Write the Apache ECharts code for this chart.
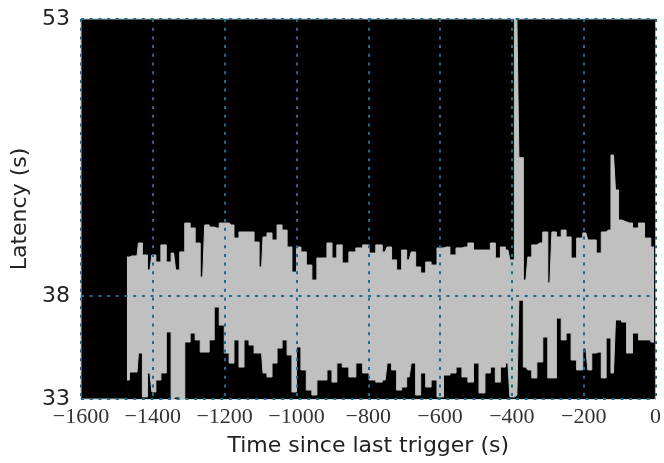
<!DOCTYPE html>
<html>
<head>
<meta charset="utf-8">
<script src="https://cdn.jsdelivr.net/npm/echarts@6/dist/echarts.min.js"></script>
<style>
html,body{margin:0;padding:0;background:#fff;}
#chart{width:664px;height:463px;}
</style>
</head>
<body>
<div id="chart"></div>
<script>
// Time since last trigger (s) for each sampled column
const times = [-1472,-1458,-1444,-1436,-1422,-1408,-1397,-1386,-1369,-1356,-1342,-1331,-1319,-1303,-1289,-1275,-1261,-1250,-1236,-1222,-1208,-1194,-1181,-1167,-1153,-1139,-1125,-1111,-1097,-1089,-1075,-1061,-1047,-1033,-1019,-1006,-994,-981,-964,-950,-936,-922,-908,-894,-881,-864,-844,-825,-806,-789,-769,-753,-742,-728,-714,-700,-686,-675,-661,-647,-633,-617,-600,-581,-564,-547,-531,-514,-500,-483,-467,-453,-439,-425,-411,-400,-386,-375,-361,-350,-339,-322,-306,-294,-283,-269,-256,-242,-228,-211,-194,-183,-172,-158,-144,-131,-117,-106,-100,-89,-72,-56,-39,-22,-4];
// Upper envelope of the latency trace (s)
const upper = [40.47,40.53,40.53,41.21,40.58,39.79,40.58,40.21,41.11,40.21,40.68,39.79,40.74,42.26,42.00,41.21,39.42,42.16,42.05,42.00,42.26,42.26,42.16,41.47,41.79,41.79,41.79,41.26,39.95,41.53,41.74,41.37,42.16,41.89,41.00,39.68,41.00,40.74,40.05,39.26,40.42,40.42,41.21,40.42,41.11,40.16,40.74,40.95,41.11,40.68,41.11,40.74,41.00,40.32,39.79,40.84,40.32,40.74,39.95,39.63,40.21,40.05,40.95,41.00,40.58,40.95,41.00,41.21,40.84,40.84,40.84,41.21,40.42,41.00,40.84,40.32,53.00,45.70,39.26,40.47,41.11,41.21,41.79,39.11,41.79,41.53,41.89,41.53,40.42,41.47,41.74,41.37,41.37,40.68,41.79,41.89,45.84,44.00,42.42,42.32,42.26,42.00,42.26,41.47,41.00];
// Lower envelope of the latency trace (s)
const lower = [34.00,34.42,34.42,35.42,33.11,34.37,33.37,34.00,34.37,36.53,33.00,33.11,33.00,36.00,36.47,36.11,35.47,35.47,36.11,37.84,36.89,35.42,34.89,36.11,34.68,36.11,35.84,35.42,35.42,34.37,34.16,34.89,35.68,36.11,35.32,33.37,35.74,34.53,33.47,33.21,34.00,34.00,34.53,33.89,34.89,34.68,34.16,34.89,34.37,34.00,33.89,34.00,34.89,34.53,33.47,33.63,34.16,34.89,33.21,34.37,33.63,34.00,33.11,34.26,34.37,34.68,34.16,33.89,34.89,33.32,34.37,34.68,33.89,34.68,34.89,33.11,33.20,38.20,34.68,34.53,34.11,34.95,36.26,34.11,34.11,37.26,36.11,36.47,35.05,34.53,35.68,34.53,35.42,35.47,34.11,36.21,34.37,37.16,37.16,37.05,35.42,36.47,36.11,36.11,36.00];
// Y tick positions (min, median, max of the trace) and x tick step
const yTicks = [33, 38.42, 53];
const xMin = -1600, xMax = 0, xStep = 200;

const upData = times.map((t, i) => [t, upper[i]]);
const lowData = times.map((t, i) => [t, lower[i]]);

const gridColor = '#1d6c8a';
const chart = echarts.init(document.getElementById('chart'), null, {renderer: 'canvas'});
chart.setOption({
  animation: false,
  backgroundColor: '#ffffff',
  grid: {left: 81, right: 7, top: 19, bottom: 64, show: true, backgroundColor: '#000000', borderColor: '#b4b4b4', borderWidth: 1},
  xAxis: {
    type: 'value', min: xMin, max: xMax, interval: xStep, z: 5,
    name: 'Time since last trigger (s)', nameLocation: 'middle', nameGap: 36,
    nameTextStyle: {fontFamily: 'DejaVu Sans', fontSize: 22, color: '#222'},
    axisLine: {show: false}, axisTick: {show: false},
    axisLabel: {
      margin: 7, fontFamily: 'Liberation Serif', fontSize: 22, color: '#333',
      formatter: v => v < 0 ? '\u2212' + Math.abs(v) : String(v)
    },
    splitLine: {show: true, lineStyle: {color: gridColor, width: 2, type: [3, 5.7]}}
  },
  yAxis: {
    type: 'value', min: 33, max: 53, z: 5,
    name: 'Latency (s)', nameLocation: 'middle', nameGap: 50,
    nameTextStyle: {fontFamily: 'DejaVu Sans', fontSize: 22, color: '#222'},
    axisLine: {show: false},
    axisTick: {show: false, customValues: yTicks},
    axisLabel: {
      customValues: yTicks, margin: 11, fontFamily: 'DejaVu Sans', fontSize: 22, color: '#222',
      formatter: v => String(Math.round(v))
    },
    splitLine: {show: true, lineStyle: {color: gridColor, width: 2, type: [3, 5.7]}}
  },
  series: [
    {type: 'line', data: upData, step: 'middle', showSymbol: false, symbol: 'none',
     lineStyle: {width: 1, color: '#c0c0c0'}, areaStyle: {color: '#c0c0c0', opacity: 1, origin: 'start'}, z: 2},
    {type: 'line', data: lowData, step: 'middle', showSymbol: false, symbol: 'none',
     lineStyle: {width: 1, color: '#c0c0c0'}, areaStyle: {color: '#000000', opacity: 1, origin: 'start'}, z: 3}
  ]
});
</script>
</body>
</html>
